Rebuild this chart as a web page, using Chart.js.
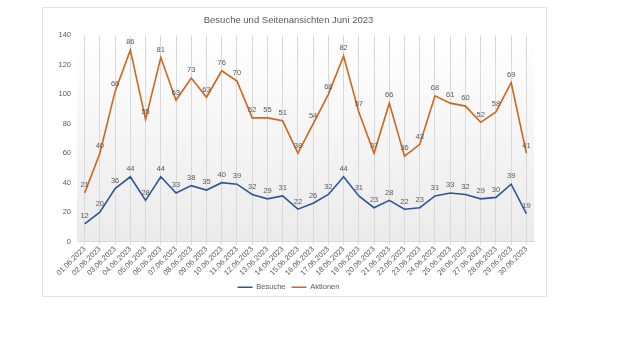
<!DOCTYPE html>
<html>
<head>
<meta charset="utf-8">
<script src="https://cdn.jsdelivr.net/npm/chart.js@4/dist/chart.umd.min.js"></script>
<style>
  html, body { margin: 0; padding: 0; background: #ffffff; width: 640px; height: 360px; overflow: hidden; }
  #box { position: absolute; left: 42px; top: 7px; width: 505px; height: 290px; border: 1px solid #e3e3e3; box-sizing: border-box; background: #fff; overflow: visible; }
  canvas { display: block; }
</style>
</head>
<body>
<div id="box"><canvas id="c" width="503" height="295"></canvas></div>
<script>
const categories = ["01.06.2023","02.06.2023","03.06.2023","04.06.2023","05.06.2023","06.06.2023","07.06.2023","08.06.2023","09.06.2023","10.06.2023","11.06.2023","12.06.2023","13.06.2023","14.06.2023","15.06.2023","16.06.2023","17.06.2023","18.06.2023","19.06.2023","20.06.2023","21.06.2023","22.06.2023","23.06.2023","24.06.2023","25.06.2023","26.06.2023","27.06.2023","28.06.2023","29.06.2023","30.06.2023"];
const besuche = [12,20,36,44,28,44,33,38,35,40,39,32,29,31,22,26,32,44,31,23,28,22,23,31,33,32,29,30,39,19];
const aktionen = [21,40,66,86,55,81,63,73,63,76,70,52,55,51,38,54,68,82,57,37,66,36,43,68,61,60,52,58,69,41];
const yTicks = [0,20,40,60,80,100,120,140];

const FONT = "'Liberation Sans', Arial, sans-serif";

const bgPlugin = {
  id: 'plotBg',
  beforeDraw(chart) {
    const {ctx, chartArea: a} = chart;
    const g = ctx.createLinearGradient(0, a.top, 0, a.bottom);
    g.addColorStop(0, '#ffffff');
    g.addColorStop(1, '#ebebeb');
    ctx.save();
    ctx.fillStyle = g;
    ctx.fillRect(a.left, a.top, a.right - a.left, a.bottom - a.top);
    ctx.restore();
  }
};

const labelPlugin = {
  id: 'valueLabels',
  afterDatasetsDraw(chart) {
    const ctx = chart.ctx;
    ctx.save();
    ctx.font = "7.5px " + FONT;
    ctx.fillStyle = '#595959';
    ctx.textAlign = 'center';
    ctx.textBaseline = 'bottom';
    chart.data.datasets.forEach((ds, i) => {
      const meta = chart.getDatasetMeta(i);
      meta.data.forEach((pt, j) => {
        ctx.fillText(String(ds.data[j]), pt.x, pt.y - 4);
      });
    });
    ctx.restore();
  }
};

new Chart(document.getElementById('c'), {
  type: 'line',
  data: {
    labels: categories,
    datasets: [
      { label: 'Besuche', data: besuche, borderColor: '#2f5597', backgroundColor: '#2f5597', borderWidth: 1.6, pointRadius: 0, fill: false, tension: 0 },
      { label: 'Aktionen', data: aktionen, borderColor: '#d0651c', backgroundColor: '#d0651c', borderWidth: 1.6, pointRadius: 0, fill: false, tension: 0 }
    ]
  },
  plugins: [bgPlugin, labelPlugin],
  options: {
    responsive: false,
    animation: false,
    layout: { padding: { left: 0, right: 12, top: 0, bottom: 2 } },
    plugins: {
      title: { display: true, text: 'Besuche und Seitenansichten Juni 2023', color: '#595959', font: { family: FONT, size: 9.5, weight: 'normal' }, padding: { top: 7, bottom: 9 } },
      legend: {
        position: 'bottom',
        labels: { usePointStyle: true, pointStyle: 'line', pointStyleWidth: 15, boxWidth: 15, boxHeight: 7, color: '#595959', font: { family: FONT, size: 7.5 }, padding: 6 }
      },
      tooltip: { enabled: false }
    },
    scales: {
      x: {
        offset: true,
        afterFit(s) { s.paddingLeft = 0; s.paddingRight = 0; },
        grid: { display: true, color: '#d9d9d9', lineWidth: 1, drawTicks: true, tickLength: 3, offset: false },
        border: { display: true, color: '#d9d9d9' },
        ticks: { color: '#595959', font: { family: FONT, size: 7.5 }, minRotation: 45, maxRotation: 45, autoSkip: false, padding: 0 }
      },
      y: {
        stacked: true,
        min: 0, max: 140,
        afterBuildTicks(scale) { scale.ticks = yTicks.map(v => ({ value: v })); },
        afterFit(s) { s.width = 34; },
        grid: { display: false, drawTicks: false, tickLength: 0 },
        border: { display: false },
        ticks: { color: '#595959', font: { family: FONT, size: 7.5 }, padding: 6 }
      }
    }
  }
});
</script>
</body>
</html>
